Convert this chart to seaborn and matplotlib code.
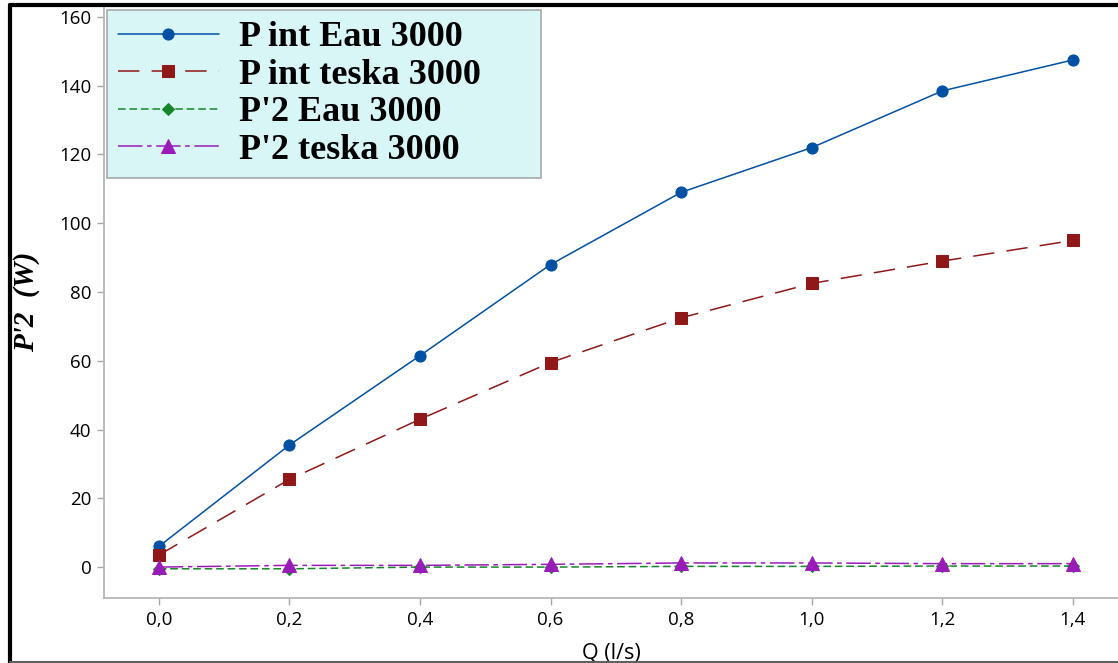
import pandas as pd
import matplotlib
matplotlib.use("Agg")
import matplotlib.pyplot as plt
from matplotlib.lines import Line2D
import seaborn as sns

# Data
q_values = [0.0, 0.2, 0.4, 0.6, 0.8, 1.0, 1.2, 1.4]
p_int_eau = [6.0, 35.5, 61.5, 88.0, 109.0, 122.0, 138.5, 147.5]
p_int_teska = [3.5, 25.5, 43.0, 59.5, 72.5, 82.5, 89.0, 95.0]
p2_eau = [-0.5, -0.5, 0.0, 0.0, 0.2, 0.2, 0.3, 0.3]
p2_teska = [0.0, 0.5, 0.5, 0.8, 1.2, 1.2, 1.0, 1.0]

series_names = ["P int Eau 3000", "P int teska 3000", "P'2 Eau 3000", "P'2 teska 3000"]
x_ticks = [0.0, 0.2, 0.4, 0.6, 0.8, 1.0, 1.2, 1.4]
x_tick_labels = ["0,0", "0,2", "0,4", "0,6", "0,8", "1,0", "1,2", "1,4"]
y_ticks = [0, 20, 40, 60, 80, 100, 120, 140, 160]

df = pd.DataFrame({
    "Q": q_values * 4,
    "P": p_int_eau + p_int_teska + p2_eau + p2_teska,
    "serie": [n for n in series_names for _ in q_values],
})

sns.set_style("white")
plt.rcParams["text.color"] = "black"

# style per series: colour, marker, marker size, dash pattern
styles = {
    "P int Eau 3000": ("#0050a4", "o", 8, None),
    "P int teska 3000": ("#901818", "s", 8, (14, 8)),
    "P'2 Eau 3000": ("#16862a", "D", 6, (5, 2.5)),
    "P'2 teska 3000": ("#9a1cb8", "^", 10, (16, 3, 3, 3)),
}

fig = plt.figure(figsize=(11.18, 6.63), dpi=100)
ax = fig.add_axes([0.093, 0.098, 0.907, 0.893])

for name in series_names:
    color, marker, ms, dashes = styles[name]
    sub = df[df["serie"] == name]
    sns.lineplot(data=sub, x="Q", y="P", ax=ax, color=color, marker=marker,
                 markersize=ms, markeredgecolor=color, linewidth=1.1,
                 label=name, legend=False)
    l = ax.lines[-1]
    if dashes is not None:
        l.set_dashes(dashes)

ax.set_xlim(-0.084, 1.469)
ax.set_ylim(-9, 163.2)
ax.set_xticks(x_ticks)
ax.set_xticklabels(x_tick_labels)
ax.set_yticks(y_ticks)

for lab in ax.get_xticklabels() + ax.get_yticklabels():
    lab.set_family("Open Sans")
    lab.set_fontsize(13.5)
    lab.set_color("black")
ax.tick_params(axis="both", direction="out", length=5, width=1, color="#a8a8a8",
               left=True, bottom=True, pad=4)

for side in ["top", "right"]:
    ax.spines[side].set_visible(False)
for side in ["left", "bottom"]:
    ax.spines[side].set_color("#b0b0b0")
    ax.spines[side].set_linewidth(1.2)

ax.set_xlabel("Q (l/s)", family="Open Sans", fontsize=15.5, labelpad=10, color="black")
ax.set_ylabel("P'2  (W)", family="Liberation Serif", fontsize=21, color="black",
              fontweight="bold", style="italic", labelpad=14)

leg = ax.legend(loc="upper left", bbox_to_anchor=(0.003, 0.493, 0.428, 0.5),
                mode="expand", borderaxespad=0,
                prop={"family": "Liberation Serif", "weight": "bold", "size": 26},
                handlelength=2.8, handletextpad=0.55, labelspacing=0.12,
                borderpad=0.3, fancybox=False, frameon=True)
leg.get_frame().set_facecolor("#d8f6f6")
leg.get_frame().set_edgecolor("#a8a8a8")
leg.get_frame().set_alpha(1)
leg.get_frame().set_linewidth(1.2)
for t in leg.get_texts():
    t.set_color("black")

# outer black frame of the original figure
fig.add_artist(Line2D([0.009, 0.009], [0.0, 0.993], color="black", lw=3, transform=fig.transFigure))
fig.add_artist(Line2D([0.009, 1.0], [0.993, 0.993], color="black", lw=3, transform=fig.transFigure))
fig.add_artist(Line2D([0.009, 1.0], [0.002, 0.002], color="#606060", lw=1.5, transform=fig.transFigure))

fig.savefig("out.png", dpi=100)
